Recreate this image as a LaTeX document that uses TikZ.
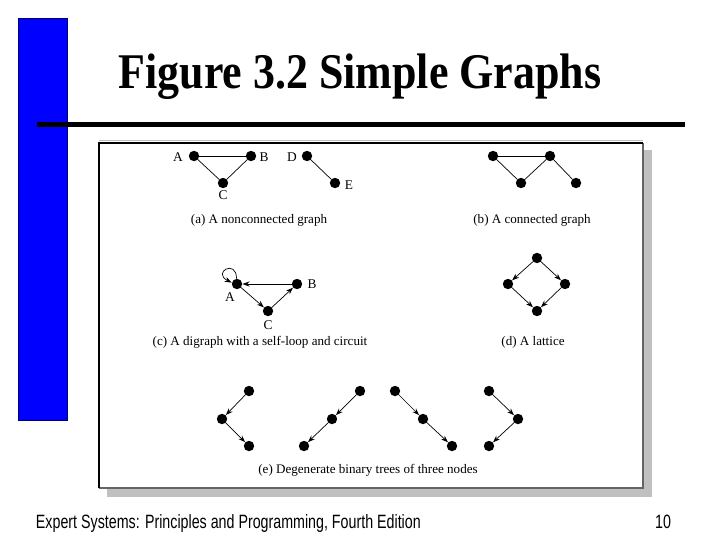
\documentclass[tikz,border=0pt]{standalone}
\usepackage{fontspec}
\setmainfont{Liberation Serif}
\newfontfamily\titlefont[FakeStretch=0.88]{Liberation Serif}
\newfontfamily\footfont[FakeStretch=0.74]{Liberation Sans}
\usetikzlibrary{arrows.meta}
\definecolor{SlideBlue}{RGB}{0,0,255}
\definecolor{SlideNavy}{RGB}{0,0,110}
\definecolor{FrameGray}{RGB}{192,192,192}
\definecolor{EdgeGray}{RGB}{100,100,100}

\begin{document}
\begin{tikzpicture}[x=0.025cm, y=-0.025cm,
          dot/.style={circle, fill=black, inner sep=0pt, minimum size=2.6mm},
          lbl/.style={font=\fontsize{9.5}{10}\selectfont, inner sep=0pt},
          captxt/.style={font=\fontsize{9.3}{10}\selectfont, inner sep=0pt},
          link/.style={draw=black, line width=0.5pt},
          arr/.style={link, -{Stealth[length=5pt, width=3.6pt]}}
        ]
        \useasboundingbox (0,0) rectangle (720,540);

        % slide decoration
        \filldraw[fill=SlideBlue, draw=SlideNavy, line width=0.6pt]
              (18,18) rectangle (67,420);
        \node[font=\titlefont\bfseries\fontsize{35.5}{36}\selectfont, anchor=base]
              (title) at (360,88) {Figure 3.2 Simple Graphs};
        \draw[black, line width=3.5pt] (37,124.5) -- (685,124.5);

        % figure frame with shadow
        \fill[FrameGray] (107,150) rectangle (652,497);
        \fill[white] (99,143) rectangle (643,488);
        \draw[FrameGray, line width=0.6pt] (99,140) -- (643,140);
        \draw[EdgeGray, line width=0.9pt] (99,488) -- (643,488) -- (643,143);
        \draw[black, line width=0.9pt] (99,488) -- (99,143) -- (643,143);

        % (a) nonconnected graph
        \node[dot] (a1) at (194,156) {};
        \node[dot] (a2) at (251,156) {};
        \node[dot] (a3) at (223,183) {};
        \node[dot] (a4) at (307,156) {};
        \node[dot] (a5) at (335,183) {};
        \node[lbl] (la1) at (178,157) {A};
        \node[lbl] (la2) at (264,157) {B};
        \node[lbl] (la3) at (223,195) {C};
        \node[lbl] (la4) at (292,157) {D};
        \node[lbl] (la5) at (349,185) {E};
        \foreach \s/\t in {a1/a2, a1/a3, a3/a2, a4/a5} {
          \draw[link] (\s) -- (\t);
        }
        \node[captxt] (capa) at (259,220) {(a) A nonconnected graph};

        % (b) connected graph
        \node[dot] (b1) at (493,156) {};
        \node[dot] (b2) at (550,156) {};
        \node[dot] (b3) at (521,183) {};
        \node[dot] (b4) at (576,183) {};
        \foreach \s/\t in {b1/b2, b1/b3, b3/b2, b2/b4} {
          \draw[link] (\s) -- (\t);
        }
        \node[captxt] (capb) at (532,220) {(b) A connected graph};

        % (c) digraph with self-loop and circuit
        \node[dot] (c1) at (237,284) {};
        \node[dot] (c2) at (297,284) {};
        \node[dot] (c3) at (268,311) {};
        \node[lbl] (lc1) at (230,297) {A};
        \node[lbl] (lc2) at (312,284) {B};
        \node[lbl] (lc3) at (268,325) {C};
        \foreach \s/\t in {c2/c1, c1/c3, c3/c2} {
          \draw[arr] (\s) -- (\t);
        }
        \draw[arr] (c1.95) .. controls +(0,-20) and +(-20,-10) .. (c1.165);
        \node[captxt] (capc) at (260,342) {(c) A digraph with a self-loop and circuit};

        % (d) lattice
        \node[dot] (d1) at (537,258) {};
        \node[dot] (d2) at (508,284) {};
        \node[dot] (d3) at (565,284) {};
        \node[dot] (d4) at (537,311) {};
        \foreach \s/\t in {d1/d2, d1/d3, d2/d4, d3/d4} {
          \draw[arr] (\s) -- (\t);
        }
        \node[captxt] (capd) at (533,342) {(d) A lattice};

        % (e) degenerate binary trees
        \node[dot] (e1)  at (249,391) {};
        \node[dot] (e2)  at (222,419) {};
        \node[dot] (e3)  at (249,446) {};
        \node[dot] (e4)  at (360,391) {};
        \node[dot] (e5)  at (332,419) {};
        \node[dot] (e6)  at (304,446) {};
        \node[dot] (e7)  at (395,391) {};
        \node[dot] (e8)  at (423,419) {};
        \node[dot] (e9)  at (452,446) {};
        \node[dot] (e10) at (489,391) {};
        \node[dot] (e11) at (518,419) {};
        \node[dot] (e12) at (489,446) {};
        \foreach \s/\t in {e1/e2, e2/e3, e4/e5, e5/e6, e7/e8, e8/e9, e10/e11, e11/e12} {
          \draw[arr] (\s) -- (\t);
        }
        \node[captxt] (cape) at (368,470) {(e) Degenerate binary trees of three nodes};

        % footer
        \node[font=\footfont\fontsize{13.7}{14}\selectfont, anchor=base west]
              (foot) at (31,528) {Expert Systems: Principles and Programming, Fourth Edition};
        \node[font=\footfont\fontsize{13.7}{14}\selectfont, anchor=base east]
              (page) at (676,528) {10};
      \end{tikzpicture}
\end{document}
